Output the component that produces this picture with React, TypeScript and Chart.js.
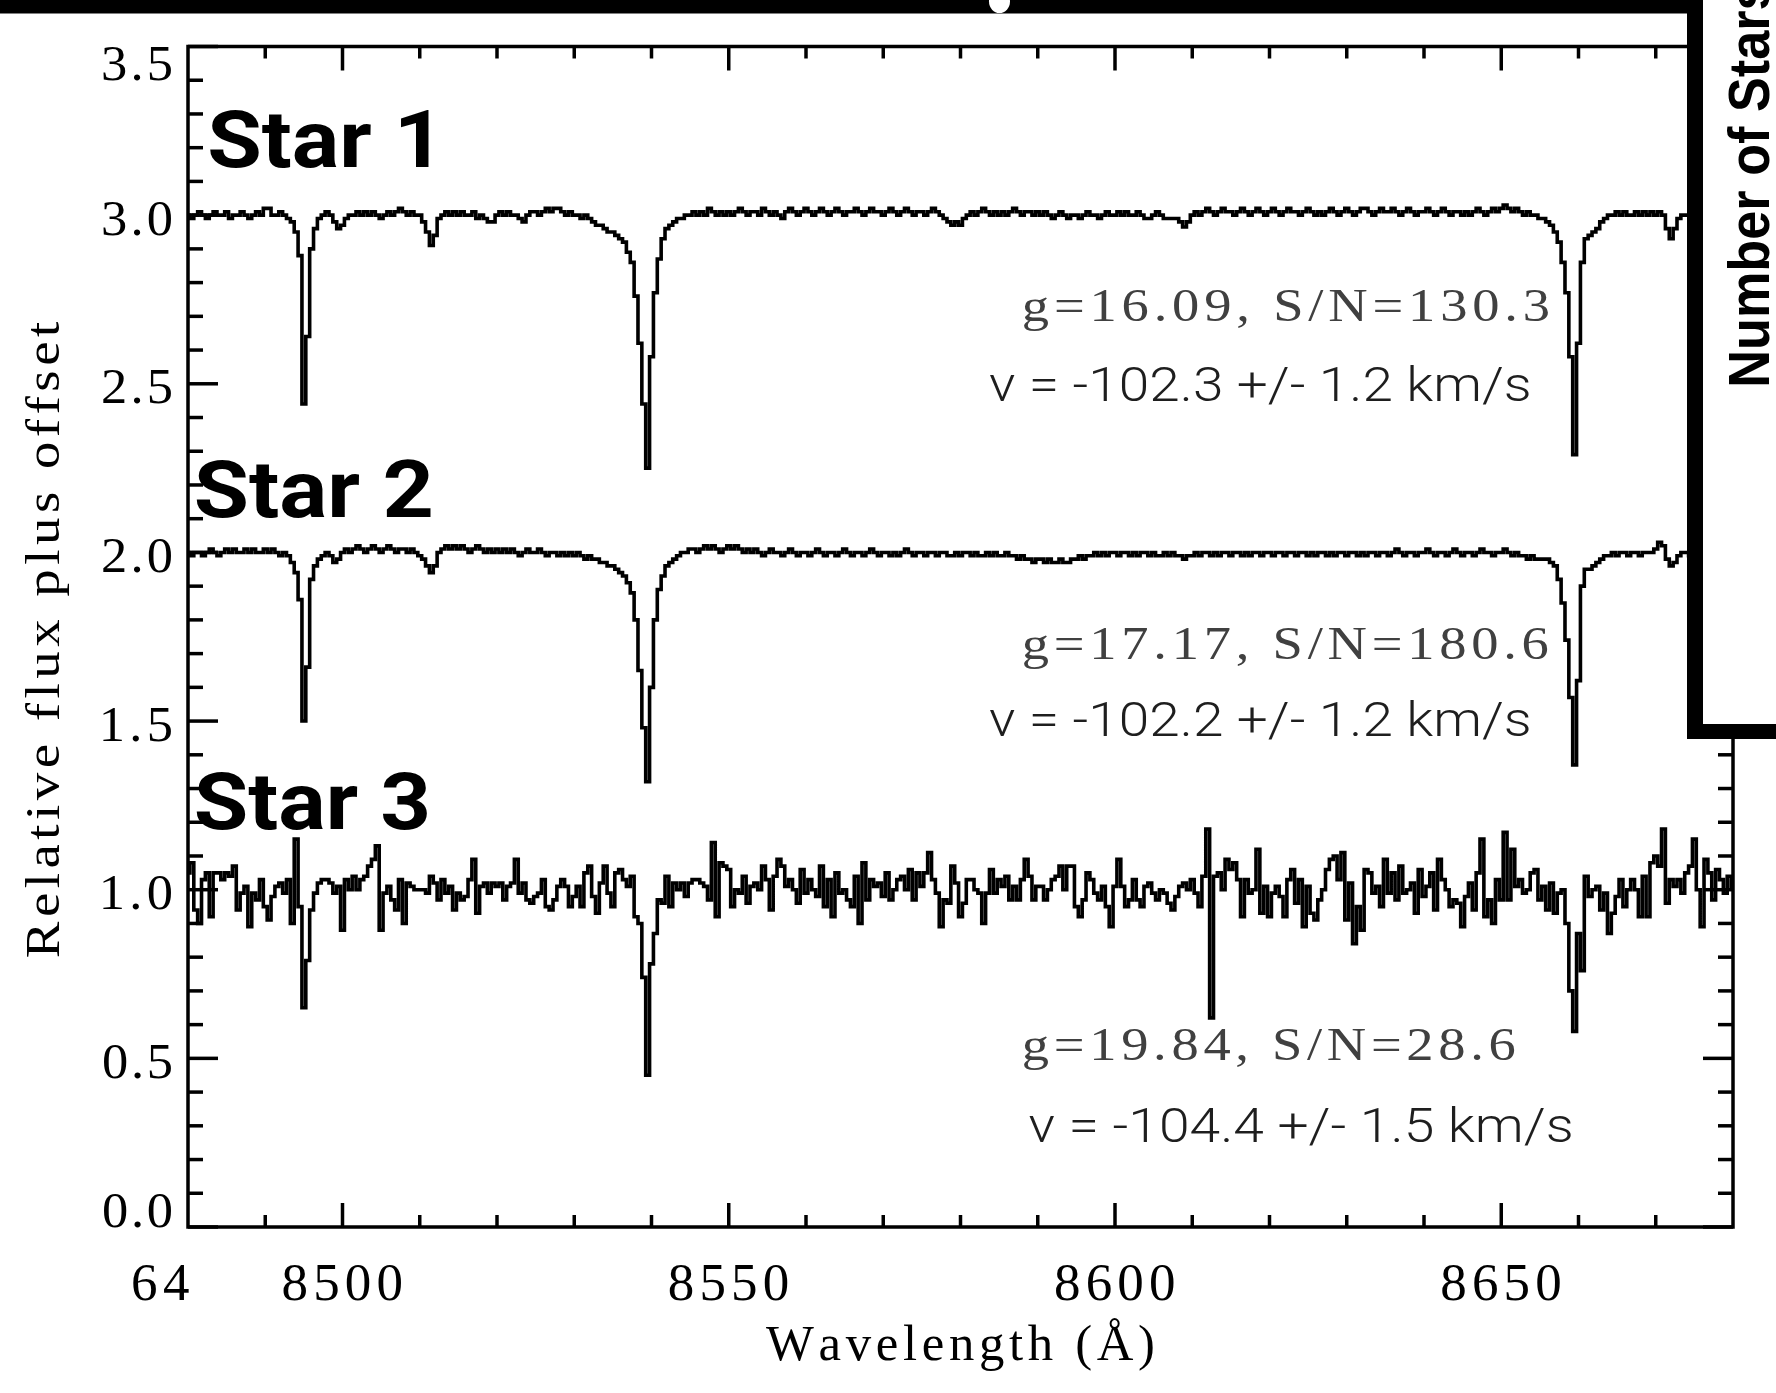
import { useEffect, useRef } from 'react';
import { Chart, registerables } from 'chart.js';

Chart.register(...registerables);

// Spectra are sampled every 0.5 Å from 8480 Å (Ca II triplet window).
const WAVE_START = 8480;
const WAVE_STEP = 0.5;

const FLUX_STAR1 = [
  3.00, 2.99, 3.00, 3.01, 3.00, 2.99, 3.00, 3.01, 3.00, 3.00, 3.01, 2.99, 3.00, 3.00, 3.01, 3.00, 2.99, 3.00, 3.01, 3.00,
  3.02, 3.02, 3.00, 3.00, 3.01, 3.00, 2.99, 2.98, 2.95, 2.88, 2.44, 2.64, 2.90, 2.96, 2.99, 3.00, 3.01, 3.00, 2.98, 2.96,
  2.97, 2.99, 3.00, 3.00, 3.01, 3.00, 3.01, 3.00, 3.01, 3.00, 2.99, 3.00, 3.01, 3.00, 3.01, 3.02, 3.01, 3.00, 3.01, 3.00,
  3.00, 2.98, 2.95, 2.91, 2.94, 2.99, 3.00, 3.01, 3.00, 3.01, 3.00, 3.01, 3.00, 3.00, 3.01, 2.99, 3.00, 2.99, 2.98, 2.98,
  3.00, 3.01, 3.00, 3.01, 3.00, 3.00, 2.99, 2.98, 3.00, 3.01, 3.01, 3.00, 3.01, 3.02, 3.01, 3.02, 3.02, 3.01, 3.00, 3.01,
  3.00, 3.00, 2.99, 3.00, 2.99, 2.98, 2.97, 2.97, 2.96, 2.95, 2.95, 2.94, 2.93, 2.92, 2.89, 2.86, 2.76, 2.62, 2.44, 2.25,
  2.58, 2.77, 2.87, 2.93, 2.96, 2.97, 2.98, 2.99, 2.99, 3.00, 3.00, 3.01, 3.00, 3.01, 3.00, 3.02, 3.01, 3.00, 3.01, 3.00,
  3.01, 3.00, 3.01, 3.02, 3.01, 3.00, 3.01, 3.01, 3.00, 3.02, 3.01, 3.00, 3.01, 3.00, 2.99, 3.01, 3.02, 3.01, 3.00, 3.01,
  3.02, 3.01, 3.00, 3.01, 3.02, 3.01, 3.00, 3.01, 3.02, 3.01, 3.00, 3.01, 3.01, 3.02, 3.01, 3.00, 3.01, 3.02, 3.01, 3.01,
  3.00, 3.01, 3.02, 3.01, 3.00, 3.01, 3.02, 3.01, 3.00, 3.01, 3.01, 3.00, 3.01, 3.02, 3.01, 3.00, 2.99, 2.98, 2.97, 2.98,
  2.97, 2.99, 3.00, 3.01, 3.00, 3.01, 3.02, 3.01, 3.00, 3.01, 3.00, 3.01, 3.00, 3.01, 3.02, 3.01, 3.00, 3.01, 3.01, 3.00,
  3.01, 3.00, 3.01, 3.00, 2.99, 3.00, 3.01, 3.00, 2.99, 3.00, 3.00, 2.99, 3.00, 3.01, 3.00, 3.00, 2.99, 3.00, 3.01, 3.00,
  3.00, 3.01, 3.00, 3.01, 3.00, 3.00, 3.01, 3.00, 2.99, 2.99, 3.00, 3.01, 3.00, 2.99, 2.99, 2.99, 2.99, 2.98, 2.965, 2.98,
  3.00, 3.01, 3.00, 3.01, 3.02, 3.01, 3.00, 3.01, 3.02, 3.01, 3.01, 3.00, 3.01, 3.02, 3.01, 3.00, 3.01, 3.02, 3.01, 3.00,
  3.01, 3.02, 3.01, 3.00, 3.01, 3.02, 3.01, 3.01, 3.00, 3.01, 3.02, 3.01, 3.00, 3.01, 3.00, 3.01, 3.02, 3.01, 3.00, 3.01,
  3.02, 3.01, 3.00, 3.01, 3.02, 3.02, 3.01, 3.00, 3.01, 3.02, 3.01, 3.01, 3.02, 3.01, 3.00, 3.01, 3.02, 3.01, 3.00, 3.01,
  3.01, 3.02, 3.01, 3.00, 3.01, 3.02, 3.01, 3.00, 3.01, 3.01, 3.00, 3.01, 3.00, 3.01, 3.02, 3.01, 3.00, 3.01, 3.02, 3.01,
  3.02, 3.03, 3.02, 3.01, 3.02, 3.01, 3.00, 3.01, 3.00, 3.00, 2.99, 2.99, 2.98, 2.97, 2.95, 2.92, 2.86, 2.77, 2.58, 2.29,
  2.62, 2.86, 2.93, 2.94, 2.95, 2.96, 2.98, 2.99, 3.00, 3.00, 3.01, 3.00, 3.01, 3.00, 3.00, 3.01, 3.00, 3.01, 3.00, 3.01,
  3.00, 3.01, 3.00, 2.96, 2.93, 2.96, 2.99, 3.00, 3.00, 3.00, 3.01, 3.00, 3.01, 3.00, 3.00, 3.01, 3.00, 3.01, 3.00, 3.00,
  3.00,
];

const FLUX_STAR2 = [
  2.00, 1.99, 2.00, 2.00, 1.99, 2.00, 2.01, 2.00, 1.99, 2.00, 2.01, 2.00, 2.01, 2.00, 2.00, 2.01, 2.00, 2.01, 2.00, 2.00,
  2.01, 2.00, 2.01, 2.00, 1.99, 2.00, 1.99, 1.97, 1.94, 1.86, 1.50, 1.66, 1.92, 1.96, 1.98, 1.99, 2.00, 1.99, 1.97, 1.98,
  2.00, 2.01, 2.00, 2.01, 2.02, 2.01, 2.00, 2.01, 2.02, 2.01, 2.00, 2.01, 2.02, 2.01, 2.00, 2.01, 2.01, 2.00, 2.01, 2.00,
  1.99, 1.98, 1.96, 1.94, 1.96, 2.00, 2.01, 2.02, 2.01, 2.02, 2.01, 2.02, 2.01, 2.00, 2.01, 2.02, 2.01, 2.00, 2.01, 2.00,
  2.01, 2.00, 2.01, 2.00, 2.01, 2.00, 1.99, 2.00, 2.01, 2.00, 2.00, 2.01, 2.00, 1.99, 2.00, 2.00, 1.99, 2.00, 1.99, 2.00,
  1.99, 2.00, 1.99, 1.98, 1.99, 1.98, 1.98, 1.97, 1.97, 1.96, 1.96, 1.95, 1.94, 1.93, 1.91, 1.88, 1.80, 1.65, 1.48, 1.32,
  1.60, 1.80, 1.89, 1.93, 1.96, 1.97, 1.98, 1.99, 2.00, 2.00, 2.01, 2.01, 2.00, 2.01, 2.02, 2.01, 2.02, 2.01, 2.00, 2.01,
  2.02, 2.01, 2.02, 2.01, 2.00, 2.01, 2.00, 2.01, 2.00, 1.99, 2.00, 2.01, 2.00, 2.00, 1.99, 2.00, 2.01, 2.00, 1.99, 2.00,
  2.00, 1.99, 2.00, 2.01, 2.00, 1.99, 2.00, 2.00, 1.99, 2.00, 2.01, 2.00, 1.99, 2.00, 2.00, 1.99, 2.00, 2.01, 2.00, 1.99,
  2.00, 2.00, 1.99, 2.00, 1.99, 2.00, 2.01, 2.00, 1.99, 2.00, 2.00, 1.99, 2.00, 2.00, 1.99, 2.00, 2.00, 1.99, 1.99, 2.00,
  1.99, 2.00, 2.00, 1.99, 2.00, 1.99, 1.99, 2.00, 1.99, 2.00, 1.99, 1.99, 2.00, 1.99, 1.99, 1.98, 1.99, 1.98, 1.98, 1.97,
  1.98, 1.98, 1.97, 1.98, 1.97, 1.97, 1.98, 1.97, 1.97, 1.98, 1.98, 1.99, 1.98, 1.99, 1.99, 2.00, 1.99, 2.00, 1.99, 2.00,
  2.00, 1.99, 2.00, 2.00, 1.99, 2.00, 1.99, 2.00, 2.00, 1.99, 2.00, 1.99, 1.99, 2.00, 1.99, 2.00, 1.99, 1.99, 1.98, 1.99,
  1.99, 2.00, 1.99, 2.00, 2.00, 1.99, 2.00, 1.99, 2.00, 2.00, 1.99, 2.00, 2.00, 1.99, 2.00, 1.99, 2.00, 2.00, 1.99, 2.00,
  2.00, 1.99, 2.00, 2.00, 1.99, 2.00, 2.00, 1.99, 2.00, 2.00, 1.99, 2.00, 1.99, 2.00, 2.00, 1.99, 2.00, 1.99, 2.00, 2.00,
  1.99, 2.00, 2.00, 1.99, 2.00, 1.99, 2.00, 2.00, 1.99, 2.00, 2.00, 1.99, 2.00, 2.01, 2.00, 1.99, 2.00, 2.00, 1.99, 2.00,
  2.00, 2.01, 2.00, 1.99, 2.00, 2.00, 1.99, 2.00, 2.01, 2.00, 1.99, 2.00, 2.00, 1.99, 2.00, 2.01, 2.00, 2.00, 1.99, 2.00,
  2.00, 2.01, 2.00, 1.99, 2.00, 1.99, 1.99, 1.98, 1.99, 1.98, 1.98, 1.98, 1.98, 1.97, 1.96, 1.92, 1.85, 1.74, 1.57, 1.37,
  1.62, 1.90, 1.95, 1.95, 1.96, 1.97, 1.98, 1.99, 1.99, 2.00, 1.99, 2.00, 2.00, 1.99, 2.00, 2.00, 1.99, 2.00, 2.00, 2.00,
  2.01, 2.03, 2.02, 1.98, 1.96, 1.97, 1.99, 2.00, 2.00, 1.99, 2.00, 2.01, 2.00, 2.00, 1.99, 2.00, 2.00, 2.01, 2.00, 2.00,
  2.00,
];

const FLUX_STAR3 = [
  1.05, 1.08, 0.94, 0.90, 1.03, 1.05, 0.92, 1.05, 1.05, 1.03, 1.05, 1.04, 1.07, 0.94, 0.99, 1.01, 0.89, 0.99, 0.97, 1.03,
  0.95, 0.91, 0.98, 1.01, 1.02, 0.99, 1.03, 0.90, 1.15, 0.95, 0.65, 0.79, 0.94, 0.99, 1.02, 1.03, 1.03, 1.02, 0.99, 1.01,
  0.88, 1.03, 1.00, 1.04, 1.00, 1.03, 1.04, 1.07, 1.09, 1.13, 0.88, 0.99, 1.01, 0.97, 0.94, 1.03, 0.90, 1.02, 1.01, 1.00,
  1.00, 1.00, 0.99, 1.04, 1.02, 0.97, 1.03, 0.99, 1.01, 0.94, 0.99, 0.97, 0.98, 1.03, 1.09, 0.93, 1.01, 1.02, 0.99, 1.02,
  1.01, 1.02, 0.97, 1.01, 1.02, 1.09, 0.99, 1.02, 0.97, 0.96, 0.98, 0.99, 1.03, 0.95, 0.94, 0.97, 1.01, 1.03, 1.01, 0.95,
  0.98, 1.01, 0.95, 1.05, 1.07, 0.98, 0.93, 1.02, 1.07, 0.99, 0.95, 1.05, 1.06, 1.03, 1.01, 1.04, 0.92, 0.90, 0.74, 0.45,
  0.78, 0.87, 0.97, 0.96, 1.04, 0.95, 1.02, 1.00, 1.02, 0.98, 1.02, 1.03, 1.03, 1.02, 1.01, 0.97, 1.14, 0.92, 1.08, 1.07,
  1.06, 0.95, 1.00, 0.99, 1.04, 0.96, 1.01, 1.02, 1.00, 1.07, 1.03, 0.94, 1.04, 1.09, 1.07, 1.01, 1.03, 1.00, 0.96, 1.06,
  0.99, 1.03, 1.00, 0.98, 1.07, 0.95, 1.03, 0.92, 1.05, 0.99, 1.00, 0.97, 0.95, 1.04, 0.90, 1.08, 0.97, 1.03, 1.01, 1.02,
  0.98, 1.05, 0.97, 1.00, 1.03, 1.04, 1.00, 1.06, 0.97, 1.05, 1.01, 1.05, 1.11, 1.03, 0.99, 0.89, 0.97, 0.96, 1.07, 1.02,
  0.92, 0.96, 1.03, 1.03, 1.00, 0.99, 0.90, 0.99, 1.06, 0.99, 1.03, 1.01, 1.04, 0.97, 1.01, 0.97, 1.03, 1.09, 1.04, 0.97,
  1.01, 1.01, 0.97, 1.00, 1.03, 1.04, 1.07, 1.00, 1.07, 1.07, 0.95, 0.92, 0.97, 1.05, 1.03, 0.99, 0.97, 1.01, 0.95, 0.89,
  1.01, 1.09, 1.01, 0.95, 0.97, 1.03, 0.97, 0.95, 1.01, 1.02, 0.99, 0.97, 1.00, 0.99, 0.96, 0.94, 0.98, 1.01, 1.02, 1.00,
  1.03, 0.99, 0.95, 1.04, 1.18, 0.62, 1.04, 1.05, 1.00, 1.09, 1.06, 1.08, 1.03, 0.92, 1.03, 0.99, 1.00, 1.12, 0.93, 1.01,
  0.92, 0.99, 1.01, 0.98, 0.92, 1.03, 1.06, 0.96, 1.03, 0.89, 1.01, 0.93, 0.91, 0.97, 1.00, 1.06, 1.09, 1.10, 1.03, 1.11,
  0.91, 1.02, 0.84, 0.95, 0.88, 1.06, 1.05, 0.99, 1.01, 0.95, 1.09, 0.99, 1.05, 0.97, 1.07, 0.99, 1.00, 1.02, 0.93, 1.06,
  0.98, 1.01, 1.05, 0.94, 1.09, 1.03, 1.00, 0.95, 0.97, 0.96, 0.89, 0.98, 1.02, 0.94, 1.05, 1.15, 0.92, 0.97, 0.90, 1.03,
  0.97, 1.17, 0.97, 1.12, 1.01, 1.03, 0.99, 1.00, 1.05, 1.06, 0.97, 1.01, 0.94, 1.02, 0.93, 0.99, 1.00, 0.90, 0.70, 0.58,
  0.87, 0.76, 1.04, 0.98, 1.00, 1.01, 0.94, 0.99, 0.87, 0.93, 0.98, 1.03, 0.95, 1.00, 1.03, 1.00, 0.92, 1.04, 0.92, 1.08,
  1.10, 1.07, 1.18, 0.96, 1.03, 1.01, 1.03, 0.99, 1.05, 1.07, 1.15, 1.00, 0.89, 1.09, 1.05, 0.97, 1.06, 1.03, 0.99, 1.04,
  1.01,
];

const WAVELENGTHS = FLUX_STAR1.map((_, i) => WAVE_START + i * WAVE_STEP);

const X_MIN = 8480;
const X_MAX = 8680;
const Y_MIN = 0;
const Y_MAX = 3.5;

const X_MAJOR_TICKS = [8500, 8550, 8600, 8650];
const X_TICK_LABELS = ['8500', '8550', '8600', '8650'];
const X_MINOR_TICKS = [8490, 8510, 8520, 8530, 8540, 8560, 8570, 8580, 8590, 8610, 8620, 8630, 8640, 8660, 8670];
const Y_MAJOR_TICKS = [0, 0.5, 1, 1.5, 2, 2.5, 3, 3.5];
const Y_TICK_LABELS = ['0.0', '0.5', '1.0', '1.5', '2.0', '2.5', '3.0', '3.5'];
const Y_MINOR_TICKS = [
  0.1, 0.2, 0.3, 0.4, 0.6, 0.7, 0.8, 0.9, 1.1, 1.2, 1.3, 1.4, 1.6, 1.7,
  1.8, 1.9, 2.1, 2.2, 2.3, 2.4, 2.6, 2.7, 2.8, 2.9, 3.1, 3.2, 3.3, 3.4,
];

const STAR_NAMES = ['Star 1', 'Star 2', 'Star 3'];
const STAR_PHOTOMETRY = ['g=16.09, S/N=130.3', 'g=17.17, S/N=180.6', 'g=19.84, S/N=28.6'];
const STAR_VELOCITIES = ['v = -102.3 +/- 1.2 km/s', 'v = -102.2 +/- 1.2 km/s', 'v = -104.4 +/- 1.5 km/s'];
const X_TITLE = 'Wavelength (Å)';
const Y_TITLE = 'Relative flux plus offset';
const EDGE_TICK_LABEL = '64';
const PANEL_TITLE = 'Number of Stars';

// Page layout (pixels)
const W = 1776;
const H = 1393;
const AREA = { left: 188, top: 46.5, right: 1733, bottom: 1227 };

const TEXT_LAYOUT = {
  names: [
    { x: 209.5, y: 167, w: 220 },
    { x: 196, y: 517, w: 235 },
    { x: 196, y: 829, w: 231 },
  ],
  photometry: [
    { x: 1023, y: 321, w: 525 },
    { x: 1023, y: 659, w: 525 },
    { x: 1023, y: 1060, w: 492 },
  ],
  velocity: [
    { x: 989, y: 401, w: 540 },
    { x: 989, y: 736, w: 540 },
    { x: 1028.5, y: 1142, w: 542.5 },
  ],
};

const serif = (s: number) => `${s}px "Liberation Serif", "DejaVu Serif", serif`;
const light = (s: number) => `300 ${s}px Roboto, "Liberation Sans", sans-serif`;
const heavy = (s: number) => `bold ${s}px Roboto, "Liberation Sans", sans-serif`;
const boldSans = (s: number) => `bold ${s}px "Liberation Sans", Arial, sans-serif`;

type FitOpts = {
  text: string;
  x: number;
  y: number;
  font: (s: number) => string;
  h: number;
  ref?: string;
  w?: number;
  stretch?: number;
  spread?: boolean;
  align?: 'left' | 'center' | 'right';
  color?: string;
  rotate?: boolean;
};

// Draws text whose reference glyph is h pixels tall and whose ink spans w pixels.
// Glyphs are widened by `stretch`; the remaining width is either taken up by
// spacing between characters (spread) or by scaling the whole string.
function drawFitted(ctx: CanvasRenderingContext2D, o: FitOpts) {
  ctx.save();
  ctx.textAlign = 'left';
  ctx.textBaseline = 'alphabetic';
  ctx.font = o.font(100);
  const refAscent = ctx.measureText(o.ref ?? '0').actualBoundingBoxAscent || 70;
  ctx.font = o.font((100 * o.h) / refAscent);
  const m = ctx.measureText(o.text);
  const stretch = o.stretch ?? 1;
  const ink = (m.actualBoundingBoxLeft + m.actualBoundingBoxRight) * stretch;
  const w = o.w ?? ink;
  const chars = Array.from(o.text);
  let sx = stretch;
  let gap = 0;
  if (o.spread && chars.length > 1) {
    gap = (w - ink) / (chars.length - 1);
  } else {
    sx = (stretch * w) / ink;
  }
  const x0 = o.align === 'center' ? -w / 2 : o.align === 'right' ? -w : 0;
  ctx.translate(o.x, o.y);
  if (o.rotate) ctx.rotate(-Math.PI / 2);
  ctx.translate(x0, 0);
  ctx.scale(sx, 1);
  ctx.fillStyle = o.color ?? '#000';
  if (gap === 0) {
    ctx.fillText(o.text, m.actualBoundingBoxLeft, 0);
  } else {
    let cx = m.actualBoundingBoxLeft;
    chars.forEach((c) => {
      ctx.fillText(c, cx, 0);
      cx += ctx.measureText(c).width + gap / sx;
    });
  }
  ctx.restore();
}

const framePlugin = {
  id: 'spectrumFrame',
  afterDraw(chart: any) {
    const { ctx, chartArea: a } = chart;
    const xs = chart.scales.x;
    const ys = chart.scales.y;
    ctx.save();

    // Box and inward ticks on all four sides
    ctx.strokeStyle = '#000';
    ctx.lineWidth = 3.5;
    ctx.lineCap = 'square';
    ctx.strokeRect(a.left, a.top, a.right - a.left, a.bottom - a.top);
    const seg = (x1: number, y1: number, x2: number, y2: number) => {
      ctx.beginPath();
      ctx.moveTo(x1, y1);
      ctx.lineTo(x2, y2);
      ctx.stroke();
    };
    ctx.lineCap = 'butt';
    X_MAJOR_TICKS.forEach((v) => {
      const px = xs.getPixelForValue(v);
      seg(px, a.bottom, px, a.bottom - 24);
      seg(px, a.top, px, a.top + 24);
    });
    X_MINOR_TICKS.forEach((v) => {
      const px = xs.getPixelForValue(v);
      seg(px, a.bottom, px, a.bottom - 12);
      seg(px, a.top, px, a.top + 12);
    });
    Y_MAJOR_TICKS.forEach((v) => {
      const py = ys.getPixelForValue(v);
      seg(a.left, py, a.left + 30, py);
      seg(a.right, py, a.right - 30, py);
    });
    Y_MINOR_TICKS.forEach((v) => {
      const py = ys.getPixelForValue(v);
      seg(a.left, py, a.left + 15, py);
      seg(a.right, py, a.right - 15, py);
    });

    // Tick labels
    const yLabelH = 33;
    Y_MAJOR_TICKS.forEach((v, i) => {
      const py = ys.getPixelForValue(v);
      const c = Math.min(Math.max(py + 3, a.top + yLabelH / 2), a.bottom - yLabelH / 2);
      drawFitted(ctx, {
        text: Y_TICK_LABELS[i], x: 172, y: c + yLabelH / 2, font: serif, h: yLabelH,
        w: 69, stretch: 1.05, spread: true, align: 'right',
      });
    });
    X_MAJOR_TICKS.forEach((v, i) => {
      const px = xs.getPixelForValue(v);
      drawFitted(ctx, { text: X_TICK_LABELS[i], x: px, y: 1300, font: serif, h: 35, w: 118, spread: true, align: 'center' });
    });
    drawFitted(ctx, { text: EDGE_TICK_LABEL, x: 161, y: 1300, font: serif, h: 35, w: 56, spread: true, align: 'center' });

    // Axis titles
    drawFitted(ctx, { text: X_TITLE, x: 766, y: 1360, font: serif, h: 33, ref: 'W', w: 383, spread: true, align: 'left' });
    drawFitted(ctx, {
      text: Y_TITLE, x: 59, y: 640, font: serif, h: 31, ref: 'R', w: 634,
      stretch: 1.15, spread: true, align: 'center', rotate: true,
    });

    // Per-star annotations
    STAR_NAMES.forEach((t, i) => {
      const p = TEXT_LAYOUT.names[i];
      drawFitted(ctx, { text: t, x: p.x, y: p.y, font: heavy, h: 58, ref: 'S', w: p.w });
    });
    STAR_PHOTOMETRY.forEach((t, i) => {
      const p = TEXT_LAYOUT.photometry[i];
      drawFitted(ctx, {
        text: t, x: p.x, y: p.y, font: serif, h: 30, w: p.w, stretch: 1.2, spread: true, color: '#404040',
      });
    });
    STAR_VELOCITIES.forEach((t, i) => {
      const p = TEXT_LAYOUT.velocity[i];
      drawFitted(ctx, { text: t, x: p.x, y: p.y, font: light, h: 35, w: p.w, color: '#1e1e1e' });
    });

    // Neighbouring histogram panel frame and its axis title
    ctx.fillStyle = '#fff';
    ctx.fillRect(1703, 0, W - 1703, 724);
    ctx.fillStyle = '#000';
    ctx.fillRect(0, 0, 1703, 13.5);
    ctx.fillRect(1687, 0, 16, 739);
    ctx.fillRect(1687, 724, W - 1687, 15);
    ctx.save();
    ctx.beginPath();
    ctx.rect(0, 0, 1703, 13.5);
    ctx.clip();
    ctx.fillStyle = '#fff';
    ctx.beginPath();
    ctx.ellipse(999.5, 1.5, 10.5, 11.5, 0, 0, Math.PI * 2);
    ctx.fill();
    ctx.restore();
    drawFitted(ctx, { text: PANEL_TITLE, x: 1769, y: 385, font: boldSans, h: 40, ref: 'N', w: 402, rotate: true });

    ctx.restore();
  },
};

export default function App() {
  const canvasRef = useRef<HTMLCanvasElement | null>(null);

  useEffect(() => {
    document.body.style.margin = '0';
    const canvas = canvasRef.current;
    if (!canvas) return;
    const spectrum = (flux: number[]) => ({
      data: WAVELENGTHS.map((x, i) => ({ x, y: flux[i] })),
      borderColor: '#000',
      borderWidth: 3.6,
      pointRadius: 0,
      stepped: 'middle' as const,
      fill: false,
    });
    const chart = new Chart(canvas, {
      type: 'line',
      data: {
        datasets: [spectrum(FLUX_STAR1), spectrum(FLUX_STAR2), spectrum(FLUX_STAR3)],
      },
      options: {
        animation: false,
        responsive: false,
        devicePixelRatio: 1,
        events: [],
        layout: {
          padding: {
            left: AREA.left,
            top: AREA.top,
            right: W - AREA.right,
            bottom: H - AREA.bottom,
          },
        },
        plugins: { legend: { display: false }, tooltip: { enabled: false } },
        scales: {
          x: { type: 'linear', min: X_MIN, max: X_MAX, display: false },
          y: { type: 'linear', min: Y_MIN, max: Y_MAX, display: false },
        },
      },
      plugins: [framePlugin],
    });
    return () => chart.destroy();
  }, []);

  return (
    <div style={{ position: 'absolute', left: 0, top: 0, width: W, height: H, background: '#fff' }}>
      <canvas ref={canvasRef} width={W} height={H} style={{ display: 'block', width: W, height: H }} />
    </div>
  );
}
